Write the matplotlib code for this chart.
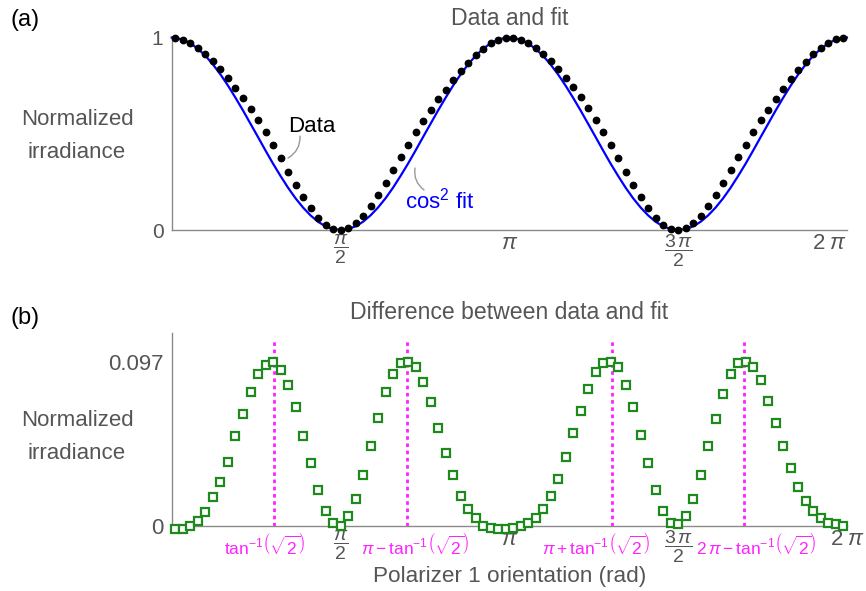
import numpy as np
import matplotlib
matplotlib.use("Agg")
import matplotlib.pyplot as plt

plt.rcParams['font.family'] = ['Liberation Sans', 'DejaVu Sans']
plt.rcParams['mathtext.fontset'] = 'custom'
plt.rcParams['mathtext.rm'] = 'Liberation Sans'
plt.rcParams['mathtext.it'] = 'Liberation Sans:italic'
plt.rcParams['mathtext.bf'] = 'Liberation Sans:bold'

# ---------------- data ----------------
# polarizer angles of the measured points (degrees), 4 degree steps
angle_deg = np.arange(2, 360, 4)

# cos^2 fit evaluated at the measured angles
fit_vals = [0.999, 0.989, 0.970, 0.941, 0.905, 0.860, 0.808, 0.750, 0.687, 0.621,
            0.552, 0.483, 0.413, 0.345, 0.281, 0.220, 0.165, 0.117, 0.076, 0.043,
            0.019, 0.005, 0.000, 0.005, 0.019, 0.043, 0.076, 0.117, 0.165, 0.220,
            0.281, 0.345, 0.413, 0.483, 0.552, 0.621, 0.687, 0.750, 0.808, 0.860,
            0.905, 0.941, 0.970, 0.989, 0.999,
            0.999, 0.989, 0.970, 0.941, 0.905, 0.860, 0.808, 0.750, 0.687, 0.621,
            0.552, 0.483, 0.413, 0.345, 0.281, 0.220, 0.165, 0.117, 0.076, 0.043,
            0.019, 0.005, 0.000, 0.005, 0.019, 0.043, 0.076, 0.117, 0.165, 0.220,
            0.281, 0.345, 0.413, 0.483, 0.552, 0.621, 0.687, 0.750, 0.808, 0.860,
            0.905, 0.941, 0.970, 0.989, 0.999]

# difference between data and fit (panel b)
diff_vals = [-0.002, -0.002, 0.000, 0.003, 0.008, 0.017, 0.026, 0.038, 0.053, 0.066,
             0.079, 0.090, 0.095, 0.097, 0.092, 0.083, 0.070, 0.053, 0.037, 0.021,
             0.009, 0.002, 0.000, 0.006, 0.016, 0.030, 0.047, 0.064, 0.079, 0.090,
             0.096, 0.097, 0.094, 0.085, 0.073, 0.058, 0.043, 0.030, 0.018, 0.010,
             0.005, 0.000, -0.001, -0.002, -0.002,
             -0.001, 0.000, 0.002, 0.005, 0.010, 0.018, 0.028, 0.041, 0.055, 0.068,
             0.081, 0.091, 0.096, 0.097, 0.094, 0.083, 0.070, 0.054, 0.037, 0.021,
             0.009, 0.002, 0.001, 0.006, 0.016, 0.030, 0.047, 0.063, 0.078, 0.090,
             0.096, 0.097, 0.094, 0.086, 0.074, 0.061, 0.047, 0.034, 0.023, 0.015,
             0.009, 0.005, 0.002, 0.001, 0.000]

# fit curve end points (0 and 2 pi)
fit_end_deg = [0, 360]
fit_end_vals = [1.0, 1.0]

# guide lines (degrees): tan^-1(sqrt 2) and its mirrors
guide_deg = [54.74, 125.26, 234.74, 305.26]
guide_labels = [r'$\tan^{-1}\!\left(\sqrt{2}\right)$',
                r'$\pi - \tan^{-1}\!\left(\sqrt{2}\right)$',
                r'$\pi + \tan^{-1}\!\left(\sqrt{2}\right)$',
                r'$2\,\pi - \tan^{-1}\!\left(\sqrt{2}\right)$']
guide_label_dx = [-7, 6, -11, 9]   # points

xtick_pos = [np.pi / 2, np.pi, 3 * np.pi / 2, 2 * np.pi]
xtick_lab = [r'$\dfrac{\pi}{2}$', r'$\pi$', r'$\dfrac{3\,\pi}{2}$', r'$2\;\pi$']

# ---------------- derived ----------------
x = np.deg2rad(angle_deg)
fit = np.array(fit_vals)
diff = np.array(diff_vals)
data = fit + diff
fit_x = np.concatenate([[np.deg2rad(fit_end_deg[0])], x, [np.deg2rad(fit_end_deg[1])]])
fit_y = np.concatenate([[fit_end_vals[0]], fit, [fit_end_vals[1]]])

GRAY = '#555555'
AXC = '#8a8a8a'
MAG = '#ff22ff'
GREEN = '#1e8a1e'

fig = plt.figure(figsize=(8.66, 5.91), dpi=100)
ax1 = fig.add_axes([0.1983, 0.6108, 0.7797, 0.3257])
ax2 = fig.add_axes([0.1983, 0.1100, 0.7797, 0.3266])

for ax in (ax1, ax2):
    for s in ('top', 'right'):
        ax.spines[s].set_visible(False)
    for s in ('left', 'bottom'):
        ax.spines[s].set_color(AXC)
        ax.spines[s].set_linewidth(1.0)
    ax.set_xlim(0, 2 * np.pi)
    ax.tick_params(length=0, colors=GRAY, labelsize=15)
    ax.patch.set_alpha(0)

# ---- panel (a)
ax1.plot(fit_x, fit_y, color='#0000ff', lw=1.6, zorder=2, clip_on=False)
ax1.plot(x, data, 'o', color='black', ms=4.6, zorder=3, clip_on=False)
ax1.set_ylim(0, 1.0)
ax1.set_yticks([0, 1])
ax1.set_yticklabels(['0', '1'])
ax1.tick_params(axis='y', pad=6)
ax1.set_xticks(xtick_pos)
ax1.set_xticklabels(xtick_lab)
ax1.tick_params(axis='x', pad=2, labelsize=14)
for lbl in ax1.get_xticklabels():
    lbl.set_color(GRAY)
ax1.get_xticklabels()[-1].set_ha('right')
ax1.get_xticklabels()[-1].set_fontsize(16)
ax1.get_xticklabels()[1].set_fontsize(16)

ax1.set_title('Data and fit', color=GRAY, fontsize=16.6, pad=9)

ax1.annotate('', xy=(1.082, 0.374), xytext=(1.194, 0.488),
             arrowprops=dict(arrowstyle='-', color='#999999', lw=1.0,
                             connectionstyle='arc3,rad=-0.3', shrinkA=0, shrinkB=0))
ax1.text(1.306, 0.540, 'Data', color='black', fontsize=16, ha='center', va='center')
ax1.annotate('', xy=(2.348, 0.208), xytext=(2.264, 0.322),
             arrowprops=dict(arrowstyle='-', color='#999999', lw=1.0,
                             connectionstyle='arc3,rad=0.3', shrinkA=0, shrinkB=0))
ax1.text(2.49, 0.151, r'cos$^{2}$ fit', color='#0000ff', fontsize=16, ha='center', va='center')

# ---- panel (b)
ax2.plot(x, diff, 's', ms=5.2, mfc='white', mec=GREEN, mew=1.6, zorder=3, clip_on=False)
ax2.set_ylim(0, 0.114)
ax2.set_yticks([0, 0.097])
ax2.set_yticklabels(['0', '0.097'])
ax2.tick_params(axis='y', pad=6, labelsize=16)
ax2.set_xticks(xtick_pos)
ax2.set_xticklabels(xtick_lab)
ax2.tick_params(axis='x', pad=2, labelsize=14)
ax2.get_xticklabels()[-1].set_fontsize(16)
ax2.get_xticklabels()[1].set_fontsize(16)

for gd, gl, dx in zip(guide_deg, guide_labels, guide_label_dx):
    gx = np.deg2rad(gd)
    ax2.plot([gx, gx], [0, 0.110], color=MAG, lw=2.0, ls=(0, (1.3, 1.3)), zorder=1)
    ax2.annotate(gl, xy=(gx, 0), xytext=(dx, -14), textcoords='offset points',
                 ha='center', va='center', color=MAG, fontsize=12.5)

ax2.set_title('Difference between data and fit', color=GRAY, fontsize=16.6, pad=10)
ax2.set_xlabel('Polarizer 1 orientation (rad)', color=GRAY, fontsize=16.2, labelpad=1)

# y labels and panel letters
fig.text(77 / 866, 1 - 136 / 591, 'Normalized\nirradiance', ha='center', va='center',
         color=GRAY, fontsize=16, linespacing=1.8)
fig.text(77 / 866, 1 - 437 / 591, 'Normalized\nirradiance', ha='center', va='center',
         color=GRAY, fontsize=16, linespacing=1.8)
fig.text(10 / 866, 1 - 20 / 591, '(a)', ha='left', va='center', color='black', fontsize=17)
fig.text(10 / 866, 1 - 318 / 591, '(b)', ha='left', va='center', color='black', fontsize=17)

fig.savefig('out.png', dpi=100)
